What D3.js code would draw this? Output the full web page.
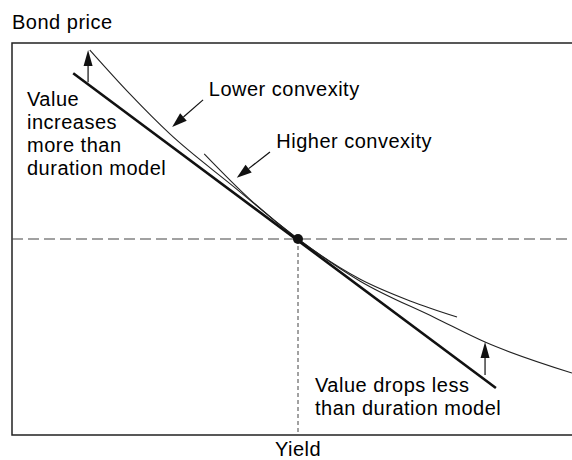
<!DOCTYPE html>
<html>
<head>
<meta charset="utf-8">
<script src="https://cdn.jsdelivr.net/npm/d3@7"></script>
<style>
  html, body { margin: 0; padding: 0; background: #fff; }
  svg { display: block; }
  text { font-family: "Liberation Sans", Arial, Helvetica, sans-serif; font-size: 20px; fill: #000; letter-spacing: 0.5px; }
</style>
</head>
<body>
<svg id="chart" width="572" height="460"></svg>
<script>
// ---- data (yield units on x, price units on y) ----
const currentPoint = [5, 50];
const durationLine = [[1.07, 92.3], [8.46, 12.0]];
const lowerConvexity = [[1.36, 98.2], [2.06, 87.0], [2.76, 76.8], [3.88, 63.3], [5, 50], [6.08, 39.3], [7.41, 29.8], [8.27, 23.7], [9.79, 15.8]];
const higherConvexity = [[3.36, 71.7], [4.16, 60.1], [5, 50], [6.08, 39.8], [6.96, 34.2], [7.78, 30.1]];
const upArrows = [[[1.33, 90.0], [1.33, 98.2]], [[8.27, 15.3], [8.27, 23.7]]];
const labelArrows = [[[3.34, 85.5], [2.80, 78.6]], [[4.51, 72.2], [3.93, 65.6]]];
const axisTitles = { y: "Bond price", x: "Yield" };
const leftNote = ["Value", "increases", "more than", "duration model"];
const rightNote = ["Value drops less", "than duration model"];
const curveLabels = [{ text: "Lower convexity", at: [3.44, 86.4] }, { text: "Higher convexity", at: [4.62, 73.2] }];

// ---- layout ----
const W = 572, H = 460;
const mLeft = 12, mTop = 43, mBottom = 435;
const x = d3.scaleLinear().domain([0, 10]).range([mLeft, mLeft + 572]);
const y = d3.scaleLinear().domain([0, 100]).range([mBottom, mTop]);

const svg = d3.select("#chart");

// frame (top, left, bottom; right side runs off the page)
svg.append("path")
  .attr("d", `M${W},${mTop}H${mLeft}V${mBottom}H${W}`)
  .attr("fill", "none").attr("stroke", "#222").attr("stroke-width", 1.5);

// reference lines through current point
svg.append("line")
  .attr("x1", mLeft).attr("x2", W)
  .attr("y1", y(currentPoint[1])).attr("y2", y(currentPoint[1]))
  .attr("stroke", "#444").attr("stroke-width", 1.2).attr("stroke-dasharray", "11,5");
svg.append("line")
  .attr("x1", x(currentPoint[0])).attr("x2", x(currentPoint[0]))
  .attr("y1", y(currentPoint[1])).attr("y2", mBottom)
  .attr("stroke", "#444").attr("stroke-width", 1).attr("stroke-dasharray", "4,3");

const line = d3.line().x(d => x(d[0])).y(d => y(d[1]));
const curve = d3.line().x(d => x(d[0])).y(d => y(d[1])).curve(d3.curveMonotoneX);

svg.append("path").attr("d", curve(lowerConvexity))
  .attr("fill", "none").attr("stroke", "#222").attr("stroke-width", 1.1);
svg.append("path").attr("d", curve(higherConvexity))
  .attr("fill", "none").attr("stroke", "#222").attr("stroke-width", 1.1);
svg.append("path").attr("d", line(durationLine))
  .attr("fill", "none").attr("stroke", "#111").attr("stroke-width", 2.6);

svg.append("circle")
  .attr("cx", x(currentPoint[0])).attr("cy", y(currentPoint[1])).attr("r", 5)
  .attr("fill", "#111");

// arrows
function arrow(a, b, headLen, headW) {
  const x1 = x(a[0]), y1 = y(a[1]), x2 = x(b[0]), y2 = y(b[1]);
  const dx = x2 - x1, dy = y2 - y1, L = Math.hypot(dx, dy);
  const ux = dx / L, uy = dy / L;
  const bx = x2 - ux * headLen, by = y2 - uy * headLen;
  svg.append("line").attr("x1", x1).attr("y1", y1).attr("x2", bx).attr("y2", by)
    .attr("stroke", "#111").attr("stroke-width", 1.2);
  svg.append("path")
    .attr("d", `M${x2},${y2}L${bx - uy * headW / 2},${by + ux * headW / 2}L${bx + uy * headW / 2},${by - ux * headW / 2}Z`)
    .attr("fill", "#111");
}
upArrows.forEach(d => arrow(d[0], d[1], 16, 9));
labelArrows.forEach(d => arrow(d[0], d[1], 15, 10));

// texts
svg.append("text").attr("x", mLeft).attr("y", 29).text(axisTitles.y);
svg.append("text").attr("x", x(currentPoint[0])).attr("y", 456).attr("text-anchor", "middle").text(axisTitles.x);

leftNote.forEach((t, i) => svg.append("text").attr("x", 27).attr("y", 106 + i * 23).text(t));
rightNote.forEach((t, i) => svg.append("text").attr("x", 315).attr("y", 392 + i * 23).text(t));
curveLabels.forEach(d => svg.append("text").attr("x", x(d.at[0])).attr("y", y(d.at[1])).text(d.text));
</script>
</body>
</html>
